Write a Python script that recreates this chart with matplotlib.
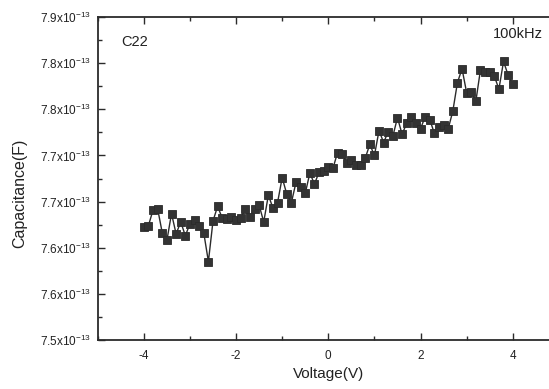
"""C-V curve of sample C22 at 100 kHz, redrawn from the scanned figure."""

import numpy as np
import matplotlib

matplotlib.use("Agg")
import matplotlib.pyplot as plt
from matplotlib.ticker import FixedLocator, MultipleLocator

plt.rcParams["font.family"] = ["Liberation Sans", "DejaVu Sans"]
plt.rcParams["mathtext.fontset"] = "custom"
plt.rcParams["mathtext.rm"] = "Liberation Sans"
plt.rcParams["mathtext.default"] = "regular"

# voltage sweep -4 V .. 4 V in 0.1 V steps
voltage = np.linspace(-4.0, 4.0, 81)

# capacitance in units of 1e-13 F
capacitance = [
    7.623, 7.624, 7.641, 7.642, 7.616, 7.608, 7.637, 7.615, 7.628, 7.613,
    7.626, 7.630, 7.624, 7.616, 7.585, 7.629, 7.645, 7.632, 7.631, 7.633,
    7.630, 7.632, 7.642, 7.633, 7.642, 7.646, 7.628, 7.657, 7.643, 7.649,
    7.676, 7.658, 7.649, 7.671, 7.666, 7.659, 7.681, 7.669, 7.682, 7.683,
    7.688, 7.686, 7.703, 7.702, 7.692, 7.695, 7.690, 7.690, 7.697, 7.712,
    7.700, 7.727, 7.714, 7.726, 7.721, 7.741, 7.723, 7.735, 7.742, 7.735,
    7.729, 7.742, 7.739, 7.724, 7.731, 7.733, 7.729, 7.748, 7.779, 7.794,
    7.768, 7.769, 7.759, 7.793, 7.791, 7.791, 7.786, 7.772, 7.802, 7.787,
    7.777,
]

# the original axis labels are rounded to one decimal, hence the repeats
ytick_values = [7.50, 7.55, 7.60, 7.65, 7.70, 7.75, 7.80, 7.85]
ytick_labels = ["7.5", "7.6", "7.6", "7.7", "7.7", "7.8", "7.8", "7.9"]
xtick_values = [-4, -2, 0, 2, 4]

SCALE = 1e-13
ink = "#2b2b2b"

fig = plt.figure(figsize=(5.49, 3.89), dpi=100)
# the right edge of the frame is cut off in the scan, so the axes run past the figure
ax = fig.add_axes([0.178, 0.126, 0.840, 0.830])

ax.plot(voltage, np.array(capacitance) * SCALE, color=ink, lw=1.0,
        marker="s", ms=6.2, mfc="#333333", mec=ink, mew=0.6)

ax.set_xlim(-5, 5)
ax.set_ylim(ytick_values[0] * SCALE, ytick_values[-1] * SCALE)

ax.xaxis.set_major_locator(FixedLocator(xtick_values))
ax.xaxis.set_minor_locator(MultipleLocator(1))
ax.set_xticklabels([str(v) for v in xtick_values])

ax.yaxis.set_major_locator(FixedLocator([v * SCALE for v in ytick_values]))
ax.yaxis.set_minor_locator(MultipleLocator(0.025 * SCALE))
ax.set_yticklabels([f"{s}x10$^{{-13}}$" for s in ytick_labels])

ax.tick_params(which="both", direction="in", top=True, right=False,
               width=1.0, colors=ink, labelcolor="#222222")
ax.tick_params(which="major", length=5, labelsize=8.5)
ax.tick_params(axis="x", which="major", pad=7)
ax.tick_params(axis="y", which="major", pad=5)
ax.tick_params(which="minor", length=3)

for side in ("left", "bottom", "top"):
    ax.spines[side].set_linewidth(1.3)
    ax.spines[side].set_color(ink)

ax.set_xlabel("Voltage(V)", fontsize=11, color="#222222", labelpad=4)
ax.set_ylabel("Capacitance(F)", fontsize=11.5, color="#222222")
ax.yaxis.set_label_coords(-0.153, 0.455)

ax.text(0.05, 0.91, "C22", transform=ax.transAxes, fontsize=10.5, color="#222222")
ax.text(0.966, 0.97, "100kHz", transform=ax.transAxes, fontsize=10.5,
        color="#222222", ha="right", va="top")

fig.savefig("out.png", dpi=100)
